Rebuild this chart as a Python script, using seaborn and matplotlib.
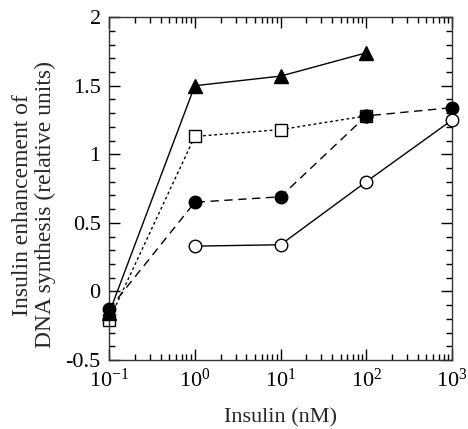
import matplotlib
matplotlib.use("Agg")
import matplotlib.pyplot as plt
import matplotlib.ticker as mticker
import numpy as np
import seaborn as sns

# insulin doses (nM)
dose = [0.1, 1, 10, 100, 1000]
dose_short = [0.1, 1, 10, 100]
dose_open = [1, 10, 100, 1000]

tri_vals = [-0.16, 1.50, 1.57, 1.74]
sq_vals = [-0.21, 1.13, 1.18, 1.28]
fc_vals = [-0.13, 0.65, 0.69, 1.28, 1.34]
oc_vals = [0.33, 0.34, 0.80, 1.25]

sns.set_style("ticks")
plt.rcParams["font.family"] = ["Liberation Serif", "DejaVu Serif"]
plt.rcParams["mathtext.fontset"] = "custom"
plt.rcParams["mathtext.rm"] = "Liberation Serif"
plt.rcParams["mathtext.it"] = "Liberation Serif:italic"
plt.rcParams["axes.unicode_minus"] = False

fig = plt.figure(figsize=(4.68, 4.29), dpi=100)
ax = fig.add_axes([0.233, 0.161, 0.733, 0.799])

common = dict(ax=ax, color="black", linewidth=1.0, markeredgecolor="black",
              markeredgewidth=1.0, clip_on=False)

sns.lineplot(x=dose, y=fc_vals, linestyle=(0, (6, 4)), marker="o",
             markersize=9, markerfacecolor="black", zorder=3, **common)
sns.lineplot(x=dose_short, y=sq_vals, linestyle=(0, (2, 2)), marker="s",
             markersize=9, markerfacecolor="white", zorder=2, **common)
sns.lineplot(x=dose_short, y=tri_vals, linestyle="-", marker="^",
             markersize=10, markerfacecolor="black", zorder=4, **common)
sns.lineplot(x=dose_open, y=oc_vals, linestyle="-", marker="o",
             markersize=9, markerfacecolor="white", zorder=3, **common)
# filled circle sits inside the open square at 100 nM
ax.plot([100], [fc_vals[3]], marker="o", markersize=9, color="black",
        linestyle="none", zorder=5, clip_on=False)

ax.set_xscale("log")
ax.set_xlim(0.1, 1000)
ax.set_ylim(-0.5, 2)
ax.xaxis.set_major_locator(mticker.LogLocator(base=10, numticks=10))
ax.xaxis.set_minor_locator(mticker.LogLocator(base=10, subs=np.arange(2, 10), numticks=20))
ax.xaxis.set_minor_formatter(mticker.NullFormatter())
ax.xaxis.set_major_formatter(mticker.FuncFormatter(
    lambda v, p: r"$\mathregular{10^{%d}}$" % int(round(np.log10(v)))))
ax.yaxis.set_major_locator(mticker.MultipleLocator(0.5))
ax.yaxis.set_minor_locator(mticker.MultipleLocator(0.1))
ax.yaxis.set_major_formatter(mticker.FuncFormatter(lambda v, p: "%g" % v))

ax.tick_params(which="both", direction="in", top=True, right=True,
               colors="black", labelsize=16, width=1.0)
ax.tick_params(which="major", length=8, pad=6)
ax.tick_params(which="minor", length=4)
for s in ax.spines.values():
    s.set_linewidth(1.0)
    s.set_color("#333333")

ax.set_xlabel("Insulin (nM)", fontsize=16, labelpad=12)
ax.set_ylabel("Insulin enhancement of\nDNA synthesis (relative units)",
              fontsize=17, linespacing=1.1)
ax.yaxis.set_label_coords(-0.155, 0.452)

fig.savefig("out.png", dpi=100)
